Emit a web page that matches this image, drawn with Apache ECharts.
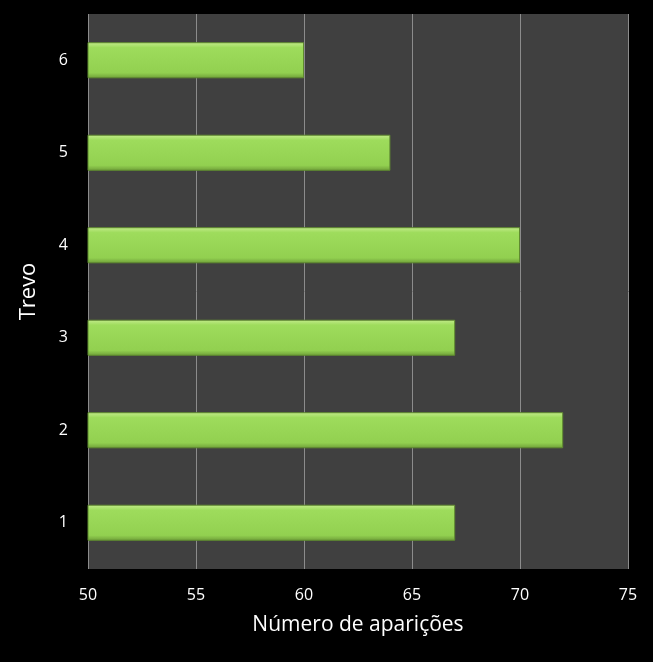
<!DOCTYPE html>
<html><head><meta charset="utf-8">
<script src="https://cdn.jsdelivr.net/npm/echarts@6/dist/echarts.min.js"></script>
<style>html,body{margin:0;background:#000;}#c{width:653px;height:662px;}</style>
</head><body><div id="c"></div>
<script>
const categories = ['1','2','3','4','5','6'];
const values = [67, 72, 67, 70, 64, 60];
const xTicks = [50, 55, 60, 65, 70, 75];
const chart = echarts.init(document.getElementById('c'));
chart.setOption({
  backgroundColor: '#000',
  animation: false,
  grid: {left: 88, right: 25, top: 14, bottom: 93, show: true, backgroundColor: '#404040', borderWidth: 0},
  xAxis: {
    type: 'value', min: xTicks[0], max: xTicks[xTicks.length-1], interval: 5,
    name: 'Número de aparições', nameLocation: 'middle', nameGap: 46,
    nameTextStyle: {color: '#fff', fontSize: 21, fontFamily: 'Open Sans'},
    axisLabel: {color: '#fff', fontSize: 16, fontFamily: 'Open Sans', margin: 18},
    axisLine: {show: false}, axisTick: {show: false},
    splitLine: {lineStyle: {color: '#8c8c8c', width: 1}}
  },
  yAxis: {
    type: 'category', data: categories,
    name: 'Trevo', nameLocation: 'middle', nameGap: 48,
    nameTextStyle: {color: '#fff', fontSize: 22, fontFamily: 'Open Sans'},
    axisLabel: {color: '#fff', fontSize: 16, fontFamily: 'Open Sans', margin: 20},
    axisLine: {show: false}, axisTick: {show: false}
  },
  series: [{
    type: 'bar', data: values, barWidth: '39%',
    itemStyle: {
      color: new echarts.graphic.LinearGradient(0,0,0,1,[
        {offset:0,color:'#c4ec8c'},{offset:0.15,color:'#9edc5c'},
        {offset:0.85,color:'#92d050'},{offset:1,color:'#6e9e38'}]),
      borderColor: '#5f8a30', borderWidth: 1
    }
  }]
});
</script></body></html>
